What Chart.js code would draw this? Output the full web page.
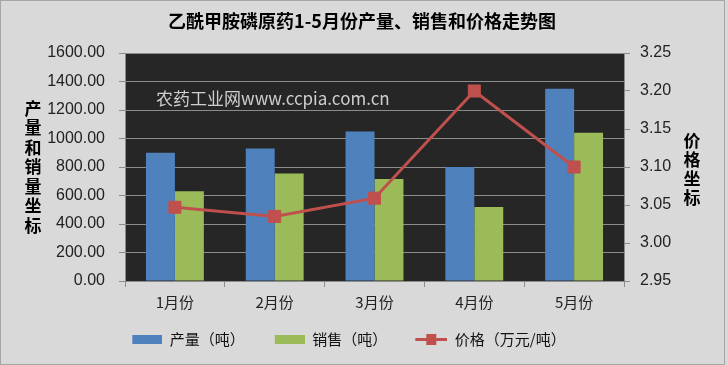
<!DOCTYPE html>
<html>
<head>
<meta charset="utf-8">
<script src="https://cdn.jsdelivr.net/npm/chart.js@4.4.0/dist/chart.umd.min.js"></script>
<style>
  html, body { margin: 0; padding: 0; background: #d9d9d9; }
  #wrap { width: 728px; height: 365px; }
</style>
</head>
<body>
<div id="wrap"><canvas id="trendChart" width="728" height="365"></canvas></div>
<script>
const chartTitle = "乙酰甲胺磷原药1-5月份产量、销售和价格走势图";
const months = ["1月份", "2月份", "3月份", "4月份", "5月份"];
const output = [900, 930, 1050, 800, 1350];
const sales = [630, 755, 715, 520, 1040];
const price = [3.047, 3.035, 3.059, 3.20, 3.10];
const seriesNames = ["产量（吨）", "销售（吨）", "价格（万元/吨）"];
const leftAxisTitle = "产量和销量坐标";
const rightAxisTitle = "价格坐标";
const watermark = "农药工业网www.ccpia.com.cn";

const BLUE = "#4f81bd", GREEN = "#9bbb59", RED = "#c0504d";
const GRID = "#8c8c8c";
const CJK = "'Noto Sans CJK SC', sans-serif";
const NUM = "'Liberation Sans Narrow', 'Arial Narrow', 'Liberation Sans', sans-serif";

// legend icons, drawn like the excel ones (empty px on the left = extra gap)
function barIcon(color) {
  const c = document.createElement("canvas");
  c.width = 40; c.height = 9;
  const ctx = c.getContext("2d");
  ctx.fillStyle = color;
  ctx.fillRect(10, 0, 30, 9);
  return c;
}
function lineIcon(color) {
  const c = document.createElement("canvas");
  c.width = 40; c.height = 11;
  const ctx = c.getContext("2d");
  ctx.fillStyle = color;
  ctx.fillRect(8, 4, 32, 3);
  ctx.fillRect(19, 0, 10, 11);
  return c;
}
const icons = [barIcon(BLUE), barIcon(GREEN), lineIcon(RED)];

const decorPlugin = {
  id: "decor",
  beforeDraw(chart) {
    const { ctx, chartArea: a, width, height } = chart;
    ctx.save();
    ctx.fillStyle = "#d9d9d9";
    ctx.fillRect(0, 0, width, height);
    ctx.strokeStyle = "#a6a6a6";
    ctx.strokeRect(0.5, 0.5, width - 4, height - 1);
    ctx.fillStyle = "#262626";
    ctx.fillRect(a.left, a.top, a.right - a.left, a.bottom - a.top);
    ctx.restore();
  },
  beforeDatasetsDraw(chart) {
    const { ctx, chartArea: a } = chart;
    ctx.save();
    ctx.font = "17px " + CJK;
    ctx.fillStyle = "#cfcfcf";
    ctx.textBaseline = "middle";
    ctx.fillText(watermark, a.left + 31, a.top + 46);
    ctx.restore();
  },
  afterDraw(chart) {
    const { ctx, chartArea: a } = chart;
    ctx.save();
    ctx.fillStyle = "#000";
    ctx.textAlign = "center";
    ctx.textBaseline = "middle";
    ctx.font = "bold 18px " + CJK;
    ctx.fillText(chartTitle, 362, 21);
    ctx.font = "bold 17px " + CJK;
    const midY = (a.top + a.bottom) / 2;
    const l = [...leftAxisTitle];
    l.forEach((ch, i) => ctx.fillText(ch, a.left - 92, midY + (i - (l.length - 1) / 2) * 19.5));
    const r = [...rightAxisTitle];
    r.forEach((ch, i) => ctx.fillText(ch, a.right + 68, midY + 2 + (i - (r.length - 1) / 2) * 19));
    ctx.restore();
  }
};

new Chart(document.getElementById("trendChart"), {
  type: "bar",
  data: {
    labels: months,
    datasets: [
      { label: seriesNames[0], data: output, backgroundColor: BLUE, yAxisID: "y", order: 1,
        categoryPercentage: 0.58, barPercentage: 1.0 },
      { label: seriesNames[1], data: sales, backgroundColor: GREEN, yAxisID: "y", order: 1,
        categoryPercentage: 0.58, barPercentage: 1.0 },
      { type: "line", label: seriesNames[2], data: price, yAxisID: "y1", order: 0,
        borderColor: RED, borderWidth: 3, tension: 0,
        pointStyle: "rect", pointRadius: 8.5, pointBackgroundColor: RED, pointBorderColor: RED, pointBorderWidth: 1 }
    ]
  },
  options: {
    responsive: false,
    animation: false,
    layout: { padding: { top: 53, right: 40, bottom: 8, left: 0 } },
    plugins: {
      title: { display: false },
      tooltip: { enabled: false },
      legend: {
        position: "bottom",
        labels: {
          usePointStyle: true,
          pointStyleWidth: 40,
          padding: 20,
          color: "#111",
          font: { family: CJK, size: 15 },
          generateLabels: chart => chart.data.datasets.map((ds, i) => ({
            text: ds.label, pointStyle: icons[i], fontColor: "#111",
            fillStyle: "transparent", strokeStyle: "transparent", lineWidth: 0,
            hidden: false, datasetIndex: i
          }))
        }
      }
    },
    scales: {
      x: {
        grid: { drawOnChartArea: false, drawTicks: true, tickLength: 6, color: GRID, offset: true },
        border: { color: GRID },
        ticks: { color: "#222", font: { family: CJK, size: 15 }, padding: 6, maxRotation: 0 },
        afterFit: s => { s.height = 31; }
      },
      y: {
        position: "left",
        min: 0, max: 1600,
        ticks: { stepSize: 200, callback: v => v.toFixed(2), color: "#222", font: { family: NUM, size: 16 }, padding: 14 },
        grid: { color: GRID, tickLength: 6 },
        border: { color: GRID },
        afterFit: s => { s.width = 125; }
      },
      y1: {
        position: "right",
        min: 2.95, max: 3.25,
        ticks: { stepSize: 0.05, callback: v => v.toFixed(2), color: "#222", font: { family: NUM, size: 16 }, padding: 10 },
        grid: { drawOnChartArea: false, color: GRID, tickLength: 6 },
        border: { color: GRID },
        afterFit: s => { s.width = 64; }
      }
    }
  },
  plugins: [decorPlugin]
});
</script>
</body>
</html>
